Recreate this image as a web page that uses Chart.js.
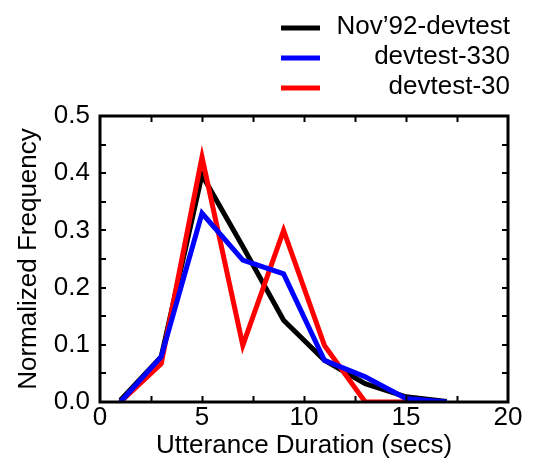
<!DOCTYPE html>
<html>
<head>
<meta charset="utf-8">
<script src="https://cdn.jsdelivr.net/npm/chart.js@4.4.1/dist/chart.umd.min.js"></script>
<style>
  html, body { margin: 0; padding: 0; background: #fff; }
  #wrap { width: 534px; height: 461px; }
</style>
</head>
<body>
<div id="wrap"><canvas id="c" width="534" height="461"></canvas></div>
<script>
// ---- data ----
const durations = [1, 3, 5, 7, 9, 11, 13, 15, 17];
const nov92Devtest = [0.003, 0.079, 0.397, 0.272, 0.143, 0.073, 0.032, 0.009, 0.001];
const devtest330 = [0.0, 0.079, 0.330, 0.248, 0.224, 0.073, 0.044, 0.006, 0.0];
const devtest30 = [0.0, 0.067, 0.428, 0.099, 0.300, 0.099, 0.0, 0.0];
const seriesNames = ["Nov\u201992-devtest", "devtest-330", "devtest-30"];
const seriesColors = ["#000000", "#0000ff", "#ff0000"];
const xTickLabels = [0, 5, 10, 15, 20];
const yTickLabels = ["0.0", "0.1", "0.2", "0.3", "0.4", "0.5"];

const FONT = "'Liberation Sans', Arial, sans-serif";

function toPoints(vals) {
  return vals.map((v, i) => ({ x: durations[i], y: v }));
}

const datasets = [
  { label: seriesNames[0], data: toPoints(nov92Devtest), borderColor: seriesColors[0], order: 2 },
  { label: seriesNames[1], data: toPoints(devtest330), borderColor: seriesColors[1], order: 0 },
  { label: seriesNames[2], data: toPoints(devtest30), borderColor: seriesColors[2], order: 1 }
].map(d => Object.assign(d, {
  borderWidth: 5, pointRadius: 0, tension: 0, fill: false,
  borderJoinStyle: 'miter', borderCapStyle: 'butt'
}));

// frame + inward ticks on all four sides
const framePlugin = {
  id: 'frame',
  afterDatasetsDraw(chart) {
    const { ctx, chartArea: a, scales } = chart;
    const xs = scales.x, ys = scales.y;
    ctx.save();
    ctx.strokeStyle = '#000';
    ctx.lineWidth = 2;
    const L = 6;
    ctx.beginPath();
    for (let v = 2.5; v < 20; v += 2.5) {
      const px = Math.round(xs.getPixelForValue(v)) + 0.5;
      ctx.moveTo(px, a.bottom); ctx.lineTo(px, a.bottom - L);
      ctx.moveTo(px, a.top); ctx.lineTo(px, a.top + L);
    }
    for (let v = 0.05; v < 0.5; v += 0.05) {
      const py = Math.round(ys.getPixelForValue(v));
      ctx.moveTo(a.left, py); ctx.lineTo(a.left + L, py);
      ctx.moveTo(a.right, py); ctx.lineTo(a.right - L, py);
    }
    ctx.stroke();
    ctx.lineWidth = 3;
    ctx.strokeRect(a.left, a.top, a.right - a.left, a.bottom - a.top);
    ctx.restore();
  }
};

// legend drawn in the upper right: short line + right-aligned label
const legendPlugin = {
  id: 'customLegend',
  afterDraw(chart) {
    const { ctx } = chart;
    const rows = [27, 57, 87];
    ctx.save();
    ctx.font = '26px ' + FONT;
    ctx.textAlign = 'right';
    ctx.textBaseline = 'middle';
    chart.data.datasets.forEach((ds, i) => {
      const y = rows[i];
      ctx.strokeStyle = ds.borderColor;
      ctx.lineWidth = 5;
      ctx.beginPath();
      ctx.moveTo(281, y + 1); ctx.lineTo(320, y + 1);
      ctx.stroke();
      ctx.fillStyle = '#000';
      ctx.fillText(ds.label, 510, y);
    });
    ctx.restore();
  }
};

new Chart(document.getElementById('c'), {
  type: 'line',
  data: { datasets },
  options: {
    responsive: false,
    animation: false,
    devicePixelRatio: 1,
    layout: { padding: { top: 116, right: 26, left: 0, bottom: 0 } },
    plugins: { legend: { display: false }, tooltip: { enabled: false } },
    scales: {
      x: {
        type: 'linear', min: 0, max: 20,
        afterBuildTicks(s) { s.ticks = xTickLabels.map(v => ({ value: v })); },
        afterFit(s) { s.height = 59; },
        grid: { display: false, drawTicks: false },
        border: { display: false },
        ticks: { color: '#000', font: { family: FONT, size: 26 }, padding: 0, maxRotation: 0,
                 callback: v => String(v) },
        title: { display: true, text: 'Utterance Duration (secs)', color: '#000',
                 font: { family: FONT, size: 26 }, padding: { top: 0, bottom: 0 } }
      },
      y: {
        type: 'linear', min: 0, max: 0.5,
        afterBuildTicks(s) { s.ticks = yTickLabels.map(t => ({ value: parseFloat(t) })); },
        afterFit(s) { s.width = 100; },
        grid: { display: false, drawTicks: false },
        border: { display: false },
        ticks: { color: '#000', font: { family: FONT, size: 26 }, padding: 10,
                 callback: (v) => yTickLabels.find(t => Math.abs(parseFloat(t) - v) < 1e-9) || v.toFixed(1) },
        title: { display: true, text: 'Normalized Frequency', color: '#000',
                 font: { family: FONT, size: 26 }, padding: { top: 13, bottom: 0 } }
      }
    }
  },
  plugins: [framePlugin, legendPlugin]
});
</script>
</body>
</html>
